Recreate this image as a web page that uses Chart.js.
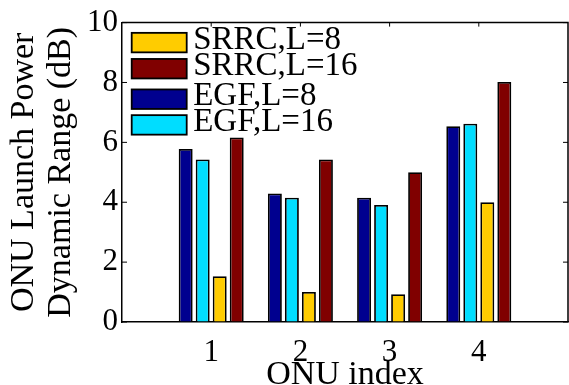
<!DOCTYPE html>
<html><head><meta charset="utf-8">
<script src="https://cdn.jsdelivr.net/npm/chart.js@4"></script>
<style>html,body{margin:0;padding:0;overflow:hidden;background:#fff;width:569px;height:385px}</style>
</head><body>
<canvas id="c" width="580" height="400" style="display:block;width:580px;height:400px"></canvas>
<script>
// ---- data ----
const onuIndex = [1, 2, 3, 4];
const xTickLabels = ['1', '2', '3', '4'];
const yTickLabels = ['0', '2', '4', '6', '8', '10'];
const seriesNames = ['EGF,L=8', 'EGF,L=16', 'SRRC,L=8', 'SRRC,L=16'];
const egfL8 = [5.78, 4.29, 4.15, 6.54];
const egfL16 = [5.43, 4.15, 3.91, 6.62];
const srrcL8 = [1.53, 1.00, 0.93, 4.00];
const srrcL16 = [6.16, 5.43, 5.00, 8.02];
const seriesColors = ['#00008F', '#00DDFF', '#FFCC00', '#800000'];
const legendOrder = [2, 3, 0, 1];

const seriesValues = [egfL8, egfL16, srrcL8, srrcL16];
const FONT = 'Liberation Serif';

const framePlugin = {
  id: 'frame',
  afterDraw(chart) {
    const {ctx, chartArea: a, scales: {x, y}} = chart;
    ctx.save();
    ctx.strokeStyle = '#000';
    ctx.lineWidth = 1.5;
    ctx.beginPath();
    ctx.moveTo(a.left, a.top);
    ctx.lineTo(a.right, a.top);
    ctx.lineTo(a.right, a.bottom);
    ctx.stroke();
    ctx.lineWidth = 1;
    ctx.beginPath();
    yTickLabels.forEach(t => {
      const py = y.getPixelForValue(+t);
      ctx.moveTo(a.left, py); ctx.lineTo(a.left + 5, py);
      ctx.moveTo(a.right, py); ctx.lineTo(a.right - 5, py);
    });
    onuIndex.forEach(v => {
      const px = x.getPixelForValue(v);
      ctx.moveTo(px, a.top); ctx.lineTo(px, a.top + 4);
    });
    ctx.stroke();
    // legend
    const rowCenters = [20, 46.1, 76.6, 102.3];
    ctx.font = '33px "' + FONT + '"';
    ctx.textBaseline = 'middle';
    ctx.textAlign = 'left';
    legendOrder.forEach((di, r) => {
      const ds = chart.data.datasets[di];
      const cy = a.top + rowCenters[r];
      const bx = a.left + 9.7, bw = 55, bh = 19.5;
      ctx.fillStyle = ds.backgroundColor;
      ctx.fillRect(bx, cy - bh / 2, bw, bh);
      ctx.lineWidth = 1.8;
      ctx.strokeStyle = '#000';
      ctx.strokeRect(bx, cy - bh / 2, bw, bh);
      ctx.fillStyle = '#000';
      ctx.fillText(ds.label, bx + bw + 6.5, cy - 2.5);
    });
    ctx.restore();
  }
};

new Chart(document.getElementById('c'), {
  type: 'bar',
  data: {
    datasets: seriesNames.map((name, i) => ({
      label: name,
      data: onuIndex.map((xv, j) => ({x: xv, y: seriesValues[i][j]})),
      backgroundColor: seriesColors[i],
      borderColor: '#000',
      borderWidth: 1.8,
      categoryPercentage: 0.763,
      barPercentage: 0.82
    }))
  },
  options: {
    responsive: false,
    animation: false,
    devicePixelRatio: 1,
    layout: {padding: {left: 0, top: 22, right: 10, bottom: 0}},
    plugins: {legend: {display: false}, tooltip: {enabled: false}},
    scales: {
      x: {
        type: 'linear', min: 0, max: 5, offset: false,
        afterFit(s) { s.height = 78; },
        ticks: {
          stepSize: 1, autoSkip: false, padding: 12, color: '#000', maxRotation: 0,
          font: {family: FONT, size: 31, lineHeight: 1.2},
          callback: v => { const i = onuIndex.indexOf(v); return i >= 0 ? xTickLabels[i] : ''; }
        },
        grid: {display: true, drawOnChartArea: false, drawTicks: false, offset: false},
        border: {display: true, color: '#000', width: 1.5},
        title: {display: true, text: 'ONU index', color: '#000',
          font: {family: FONT, size: 34, lineHeight: 1.076}, padding: {top: 0, bottom: 7}}
      },
      y: {
        min: 0, max: 10,
        afterFit(s) { s.width = 122; },
        ticks: {
          stepSize: 2, padding: 4, color: '#000',
          font: {family: FONT, size: 31, lineHeight: 1.2},
          callback: v => { const i = yTickLabels.indexOf(String(v)); return i >= 0 ? yTickLabels[i] : ''; }
        },
        grid: {display: true, drawOnChartArea: false, drawTicks: false},
        border: {display: true, color: '#000', width: 1.5},
        title: {display: true, text: ['ONU Launch Power', 'Dynamic Range (dB)'], color: '#000',
          font: {family: FONT, size: 34, lineHeight: 1.076}, padding: {top: 6, bottom: 0}}
      }
    }
  },
  plugins: [framePlugin]
});
</script>
</body></html>
